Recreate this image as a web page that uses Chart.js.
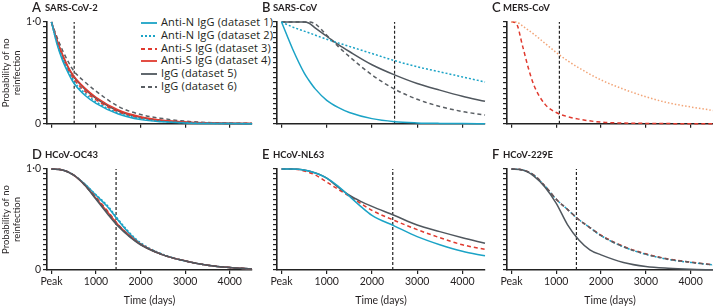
<!DOCTYPE html>
<html>
<head>
<meta charset="utf-8">
<script src="https://cdn.jsdelivr.net/npm/chart.js@4.4.0/dist/chart.umd.min.js"></script>
<style>
body { margin: 0; width: 713px; height: 306px; position: relative; background: #fff; font-family: Lato, sans-serif; overflow: hidden; }
canvas.pan { position: absolute; }
.ttl { position: absolute; color: #231f20; white-space: nowrap; line-height: 14px; }
.ttl b { font-size: 13px; font-weight: 600; position: absolute; left: 0; top: 0; }
.ttl span { font-size: 9.5px; font-weight: 700; position: absolute; top: 1px; }
#legend { position: absolute; left: 141px; top: 16px; font-family: "Open Sans", sans-serif; font-size: 11px; letter-spacing: 0.15px; color: #231f20; }
#legend div { height: 12.8px; line-height: 12.8px; white-space: nowrap; }
#legend svg { vertical-align: middle; margin-right: 4px; }
</style>
</head>
<body>
<div id="legend"></div>
<script>
// legend entries / line styles
var seriesNames = ['Anti-N IgG (dataset 1)', 'Anti-N IgG (dataset 2)', 'Anti-S IgG (dataset 3)',
                   'Anti-S IgG (dataset 4)', 'IgG (dataset 5)', 'IgG (dataset 6)'];
var seriesColors = ['#1ba3c6', '#1ba3c6', '#e03a2f', '#e03a2f', '#50575e', '#5a5f64', '#f2a578'];
var seriesDash = [[], [2, 2], [4, 3], [], [], [4, 3], [1.5, 2]];

var xTicks = [0, 1000, 2000, 3000, 4000];

// A: SARS-CoV-2
var daysA = [0, 125, 250, 375, 500, 750, 1000, 1500, 2000, 2500, 3000, 3500, 4000, 4500];
var sarsCov2_1 = [1, 0.78, 0.62, 0.50, 0.40, 0.28, 0.20, 0.095, 0.04, 0.018, 0.008, 0.003, 0.001, 0];
var sarsCov2_2 = [1, 0.79, 0.64, 0.52, 0.42, 0.30, 0.215, 0.105, 0.05, 0.022, 0.01, 0.004, 0.002, 0];
var sarsCov2_3 = [1, 0.80, 0.65, 0.53, 0.44, 0.32, 0.235, 0.115, 0.055, 0.025, 0.012, 0.005, 0.002, 0.001];
var sarsCov2_4 = [1, 0.82, 0.68, 0.56, 0.47, 0.35, 0.26, 0.135, 0.068, 0.033, 0.016, 0.008, 0.004, 0.002];
var sarsCov2_5 = [1, 0.82, 0.67, 0.55, 0.46, 0.34, 0.25, 0.125, 0.062, 0.03, 0.015, 0.007, 0.003, 0.001];
var sarsCov2_6 = [1, 0.85, 0.72, 0.61, 0.52, 0.41, 0.32, 0.17, 0.09, 0.05, 0.025, 0.012, 0.006, 0.003];

// B: SARS-CoV
var daysB = [0, 250, 500, 600, 750, 1000, 1250, 1500, 2000, 2500, 3000, 3500, 4000, 4500];
var sarsCov_1 = [1, 0.73, 0.50, 0.43, 0.34, 0.23, 0.16, 0.11, 0.05, 0.02, 0.008, 0.003, 0.001, 0];
var sarsCov_2 = [1, 0.95, 0.91, 0.895, 0.87, 0.83, 0.795, 0.76, 0.69, 0.62, 0.56, 0.51, 0.46, 0.41];
var sarsCov_5 = [1, 1, 1, 0.99, 0.94, 0.86, 0.78, 0.71, 0.58, 0.48, 0.395, 0.33, 0.27, 0.22];
var sarsCov_6 = [1, 1, 1, 1, 0.98, 0.87, 0.76, 0.66, 0.48, 0.34, 0.24, 0.17, 0.12, 0.085];

// C: MERS-CoV
var daysC = [0, 100, 250, 375, 500, 750, 1000, 1250, 1500, 2000, 2500, 3000, 3500, 4000, 4500];
var mers_3 = [1, 0.99, 0.76, 0.55, 0.38, 0.19, 0.11, 0.07, 0.045, 0.015, 0.006, 0.003, 0.001, 0, 0];
var mers_x = [1, 1, 0.96, 0.92, 0.88, 0.79, 0.70, 0.62, 0.55, 0.43, 0.34, 0.265, 0.205, 0.165, 0.13];

// D-F: seasonal coronaviruses
var daysH = [0, 250, 500, 750, 1000, 1250, 1500, 1750, 2000, 2500, 3000, 3500, 4000, 4500];
var oc43_1 = [1, 0.99, 0.94, 0.85, 0.74, 0.63, 0.49, 0.36, 0.26, 0.15, 0.09, 0.048, 0.024, 0.01];
var oc43_2 = [1, 0.99, 0.94, 0.85, 0.745, 0.64, 0.50, 0.37, 0.27, 0.155, 0.09, 0.048, 0.024, 0.01];
var oc43_3 = [1, 0.99, 0.94, 0.84, 0.72, 0.59, 0.45, 0.34, 0.255, 0.15, 0.09, 0.048, 0.024, 0.01];
var oc43_4 = [1, 0.99, 0.94, 0.84, 0.71, 0.58, 0.445, 0.34, 0.255, 0.15, 0.09, 0.048, 0.024, 0.01];
var oc43_5 = [1, 0.99, 0.94, 0.84, 0.70, 0.56, 0.43, 0.33, 0.25, 0.15, 0.09, 0.048, 0.024, 0.01];
var oc43_6 = [1, 0.99, 0.94, 0.84, 0.71, 0.57, 0.44, 0.335, 0.255, 0.15, 0.09, 0.048, 0.024, 0.01];

var nl63_1 = [1, 1, 0.99, 0.96, 0.91, 0.83, 0.73, 0.63, 0.54, 0.435, 0.33, 0.25, 0.185, 0.14];
var nl63_3 = [1, 1, 0.98, 0.94, 0.87, 0.80, 0.73, 0.66, 0.59, 0.49, 0.40, 0.32, 0.25, 0.205];
var nl63_5 = [1, 1, 0.99, 0.96, 0.91, 0.82, 0.74, 0.68, 0.63, 0.54, 0.445, 0.38, 0.32, 0.265];

var e229_2 = [1, 0.99, 0.94, 0.83, 0.70, 0.60, 0.50, 0.42, 0.34, 0.23, 0.155, 0.105, 0.075, 0.05];
var e229_3 = [1, 0.99, 0.94, 0.83, 0.70, 0.60, 0.50, 0.42, 0.345, 0.235, 0.16, 0.11, 0.078, 0.052];
var e229_5 = [1, 0.99, 0.93, 0.82, 0.66, 0.45, 0.30, 0.20, 0.15, 0.075, 0.035, 0.017, 0.007, 0.002];
var e229_6 = [1, 0.99, 0.94, 0.83, 0.70, 0.60, 0.50, 0.42, 0.34, 0.23, 0.157, 0.107, 0.077, 0.05];

var panels = [
  { letter: 'A', name: 'SARS-CoV-2', days: daysA, cut: 510, row: 0, col: 0, left: 47, top: 22, w: 205, h: 102,
    lines: [[0, sarsCov2_1], [1, sarsCov2_2], [2, sarsCov2_3], [3, sarsCov2_4], [4, sarsCov2_5], [5, sarsCov2_6]] },
  { letter: 'B', name: 'SARS-CoV', days: daysB, cut: 2500, row: 0, col: 1, left: 277, top: 22, w: 208, h: 102,
    lines: [[0, sarsCov_1], [1, sarsCov_2], [4, sarsCov_5], [5, sarsCov_6]] },
  { letter: 'C', name: 'MERS-CoV', days: daysC, cut: 1070, row: 0, col: 2, left: 507, top: 22, w: 206, h: 102,
    lines: [[6, mers_x], [2, mers_3]] },
  { letter: 'D', name: 'HCoV-OC43', days: daysH, cut: 1450, row: 1, col: 0, left: 47, top: 169, w: 205, h: 101,
    lines: [[4, oc43_5], [5, oc43_6], [2, oc43_3], [3, oc43_4], [0, oc43_1], [1, oc43_2]] },
  { letter: 'E', name: 'HCoV-NL63', days: daysH, cut: 2460, row: 1, col: 1, left: 277, top: 169, w: 208, h: 101,
    lines: [[0, nl63_1], [4, nl63_5], [2, nl63_3]] },
  { letter: 'F', name: 'HCoV-229E', days: daysH, cut: 1450, row: 1, col: 2, left: 507, top: 169, w: 206, h: 101,
    lines: [[4, e229_5], [5, e229_6], [2, e229_3], [1, e229_2]] }
];

Chart.defaults.font.family = 'Lato, sans-serif';
Chart.defaults.color = '#231f20';

function makePanel(p) {
  var wy = p.col === 0 ? 47 : 12;
  var hx = p.row === 0 ? 8 : 37;
  var padTop = 10;
  var padRight = p.col === 2 ? 0 : 2;
  var cw = wy + p.w + padRight, ch = padTop + p.h + hx;

  var cv = document.createElement('canvas');
  cv.className = 'pan';
  cv.width = cw; cv.height = ch;
  cv.style.width = cw + 'px'; cv.style.height = ch + 'px';
  cv.style.left = (p.left - wy) + 'px';
  cv.style.top = (p.top - padTop) + 'px';
  document.body.appendChild(cv);

  var datasets = p.lines.map(function (l) {
    return {
      data: p.days.map(function (d, i) { return { x: d, y: l[1][i] }; }),
      borderColor: seriesColors[l[0]],
      borderDash: seriesDash[l[0]],
      borderWidth: 1.5,
      pointRadius: 0,
      cubicInterpolationMode: 'monotone',
      fill: false,
      clip: 3
    };
  });
  datasets.push({
    data: [{ x: p.cut, y: 0 }, { x: p.cut, y: 1 }],
    borderColor: '#222', borderDash: [3, 2], borderWidth: 1.2, pointRadius: 0
  });

  new Chart(cv, {
    type: 'line',
    data: { datasets: datasets },
    options: {
      responsive: false,
      animation: false,
      layout: { padding: { top: padTop, right: padRight, left: 0, bottom: 0 } },
      plugins: { legend: { display: false }, tooltip: { enabled: false } },
      scales: {
        x: {
          type: 'linear', min: -100, max: 4500,
          afterBuildTicks: function (a) { a.ticks = xTicks.map(function (v) { return { value: v }; }); },
          afterFit: function (a) { a.height = hx; },
          grid: { drawOnChartArea: false, tickLength: 4, color: '#222', lineWidth: 1.2 },
          border: { color: '#222', width: 1.6 },
          ticks: {
            maxRotation: 0, autoSkip: false, padding: 1, font: { size: 10.5 },
            callback: function (v) { return p.row === 0 ? '' : (v === 0 ? 'Peak' : String(v)); }
          },
          title: { display: p.row === 1, text: 'Time (days)', font: { size: 10.5 }, padding: { top: 2, bottom: 0 } }
        },
        y: {
          min: 0, max: 1,
          afterFit: function (a) { a.width = wy; },
          grid: { drawOnChartArea: false, tickLength: 4, color: '#222', lineWidth: 1.2 },
          border: { color: '#222', width: 1.6 },
          ticks: {
            stepSize: 0.05, autoSkip: false, padding: 2, font: { size: 10.5 },
            callback: function (v) {
              if (p.col !== 0) return '';
              if (Math.abs(v - 1) < 1e-6) return '1·0';
              if (Math.abs(v) < 1e-6) return '0';
              return '';
            }
          },
          title: { display: p.col === 0, text: ['Probability of no', 'reinfection'], font: { size: 9.5 }, padding: { top: 0, bottom: 2 } }
        }
      }
    }
  });

  var t = document.createElement('div');
  t.className = 'ttl';
  t.style.left = (p.left - 15) + 'px';
  t.style.top = (p.top - 22) + 'px';
  t.innerHTML = '<b>' + p.letter + '</b><span style="left:' + (p.letter === 'D' || p.letter === 'A' ? 13 : 11) + 'px">' + p.name + '</span>';
  document.body.appendChild(t);
}

panels.forEach(makePanel);

// legend for panel A
var lg = document.getElementById('legend');
seriesNames.forEach(function (n, i) {
  var row = document.createElement('div');
  var dash = seriesDash[i].length ? ' stroke-dasharray="' + seriesDash[i].join(',') + '"' : '';
  row.innerHTML = '<svg width="16" height="6"><line x1="0" y1="3" x2="16" y2="3" stroke="' + seriesColors[i] +
    '" stroke-width="1.8"' + dash + '/></svg>' + n;
  lg.appendChild(row);
});
</script>
</body>
</html>
